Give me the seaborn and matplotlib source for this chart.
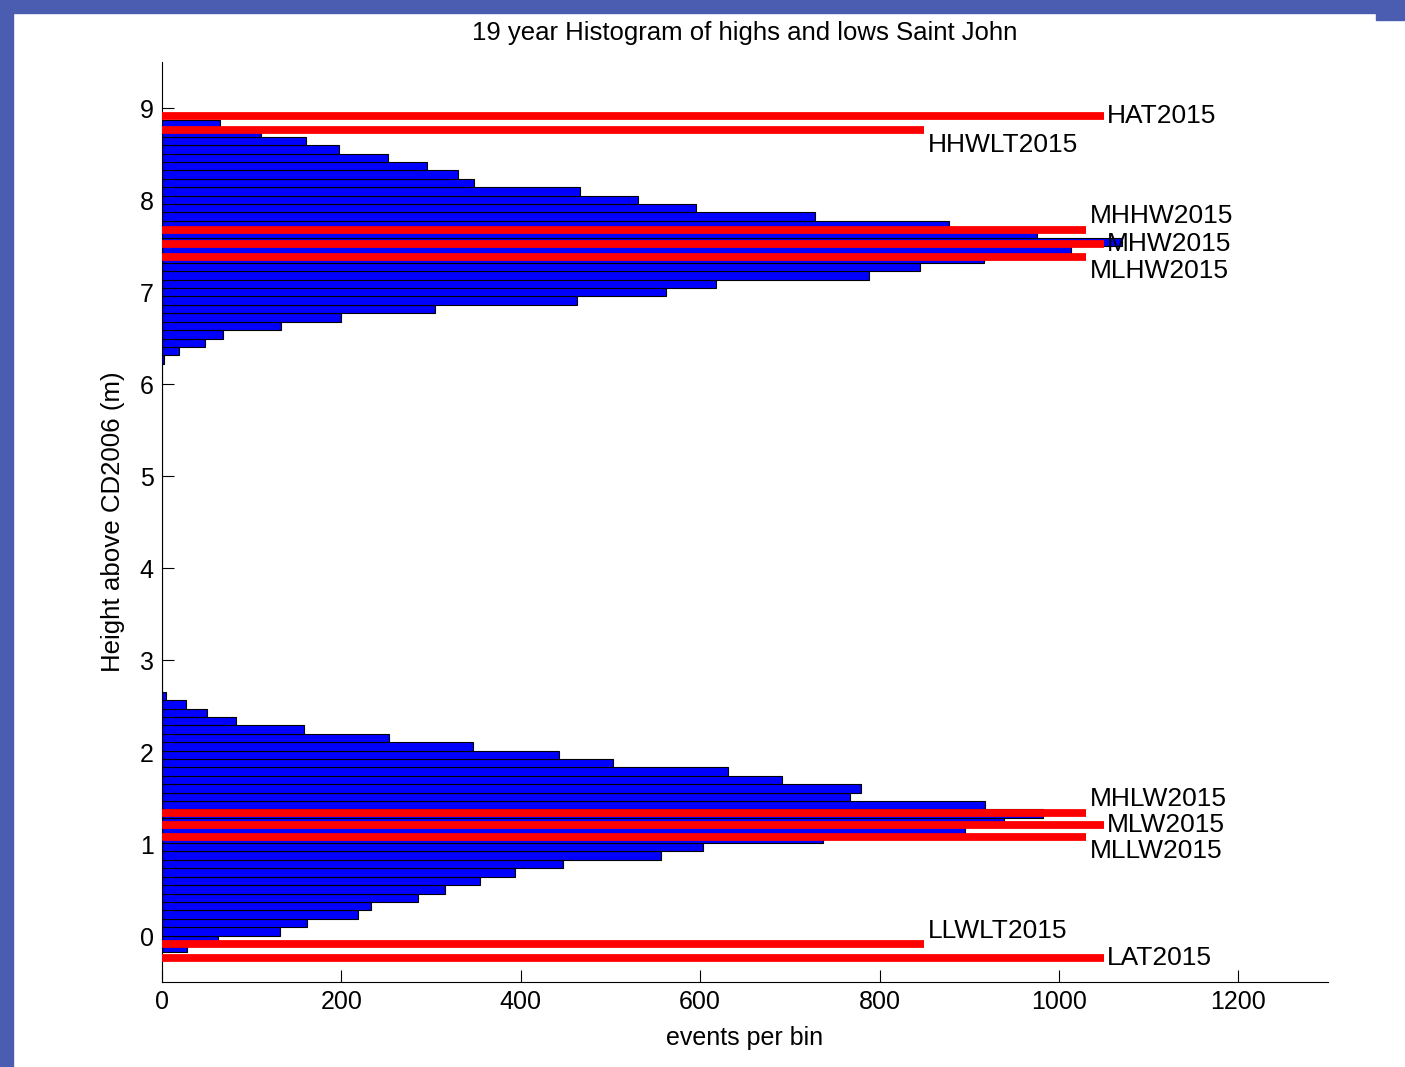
import numpy as np
import pandas as pd
import matplotlib
matplotlib.use("Agg")
import matplotlib.pyplot as plt
from matplotlib.patches import Rectangle
import seaborn as sns

# Counts per 0.0914 m bin, lowest bin first
low_counts = [28, 62, 132, 162, 219, 233, 285, 315, 355, 394, 447, 556, 603,
              737, 895, 939, 982, 918, 767, 779, 691, 631, 503, 443, 347,
              253, 158, 83, 50, 27, 4]
gap_bins = 39
high_counts = [2, 19, 48, 68, 133, 200, 304, 463, 562, 618, 788, 845, 917,
               1013, 1070, 976, 877, 728, 595, 531, 466, 348, 330, 296, 252,
               197, 161, 110, 65]
first_edge = -0.178
bin_width = 0.0914

# Tidal datums: name, height (m), length of marker line (events)
level_names = ["HAT2015", "HHWLT2015", "MHHW2015", "MHW2015", "MLHW2015",
               "MHLW2015", "MLW2015", "MLLW2015", "LLWLT2015", "LAT2015"]
level_heights = [8.916, 8.758, 7.676, 7.527, 7.383,
                 1.337, 1.210, 1.073, -0.087, -0.236]
level_lengths = [1050, 850, 1030, 1050, 1030, 1030, 1050, 1030, 850, 1050]
label_shift = [0.0, -0.16, 0.15, 0.0, -0.155, 0.15, 0.0, -0.15, 0.14, 0.0]

x_ticks = [0, 200, 400, 600, 800, 1000, 1200]
y_ticks = [0, 1, 2, 3, 4, 5, 6, 7, 8, 9]

sns.set_style("white")
plt.rcParams["font.family"] = ["Liberation Sans", "DejaVu Sans"]
plt.rcParams["text.color"] = "black"
plt.rcParams["axes.labelcolor"] = "black"

counts = np.array(low_counts + [0] * gap_bins + high_counts, dtype=float)
centers = first_edge + bin_width * (np.arange(len(counts)) + 0.5)
bins_df = pd.DataFrame({"height": np.round(centers, 5), "events": counts})

fig = plt.figure(figsize=(14.05, 10.67), dpi=100, facecolor="white")

# slide frame in blue along the top and left edges
frame = "#4a5db0"
fig.patches.append(Rectangle((0, 1 - 13 / 1067), 1, 13 / 1067,
                             transform=fig.transFigure, color=frame, zorder=0))
fig.patches.append(Rectangle((0, 0), 13 / 1405, 1,
                             transform=fig.transFigure, color=frame, zorder=0))
fig.patches.append(Rectangle((1376 / 1405, 1 - 20 / 1067), 29 / 1405, 8 / 1067,
                             transform=fig.transFigure, color=frame, zorder=0))

ax = fig.add_axes([162 / 1405, 85 / 1067, 1166 / 1405, 920 / 1067])
ax.set_facecolor("white")

sns.barplot(data=bins_df, x="events", y="height", orient="y", native_scale=True,
            width=1.0, color="#0000ff", saturation=1, edgecolor="black",
            linewidth=0.8, errorbar=None, ax=ax)

ax.hlines(level_heights, 0, level_lengths, colors="#ff0000",
          linewidth=5.6, capstyle="butt", zorder=5)
for name, h, length, dy in zip(level_names, level_heights, level_lengths, label_shift):
    ax.text(length + 4, h + dy, name, fontsize=19, ha="left", va="center",
            color="black", zorder=6)

ax.set_xlim(0, 1300)
ax.set_ylim(-0.5, 9.5)
ax.set_xticks(x_ticks)
ax.set_xticklabels([str(t) for t in x_ticks])
ax.set_yticks(y_ticks)
ax.set_yticklabels([str(t) for t in y_ticks])
ax.tick_params(axis="both", direction="in", length=8.5, width=0.8,
               labelsize=18, pad=6, colors="black", left=True, bottom=True)
for side in ("top", "right"):
    ax.spines[side].set_visible(False)
for side in ("left", "bottom"):
    ax.spines[side].set_color("black")
    ax.spines[side].set_linewidth(0.8)

ax.set_xlabel("events per bin", fontsize=18, color="black")
ax.set_ylabel("Height above CD2006 (m)", fontsize=18.6, color="black")
ax.xaxis.set_label_coords(0.5, -0.048)
ax.yaxis.set_label_coords(-0.032, 0.5)

fig.text(745 / 1405, 1 - 33 / 1067, "19 year Histogram of highs and lows Saint John",
         fontsize=18.5, ha="center", va="center", color="black")

fig.savefig("out.png", dpi=100, facecolor=fig.get_facecolor())
